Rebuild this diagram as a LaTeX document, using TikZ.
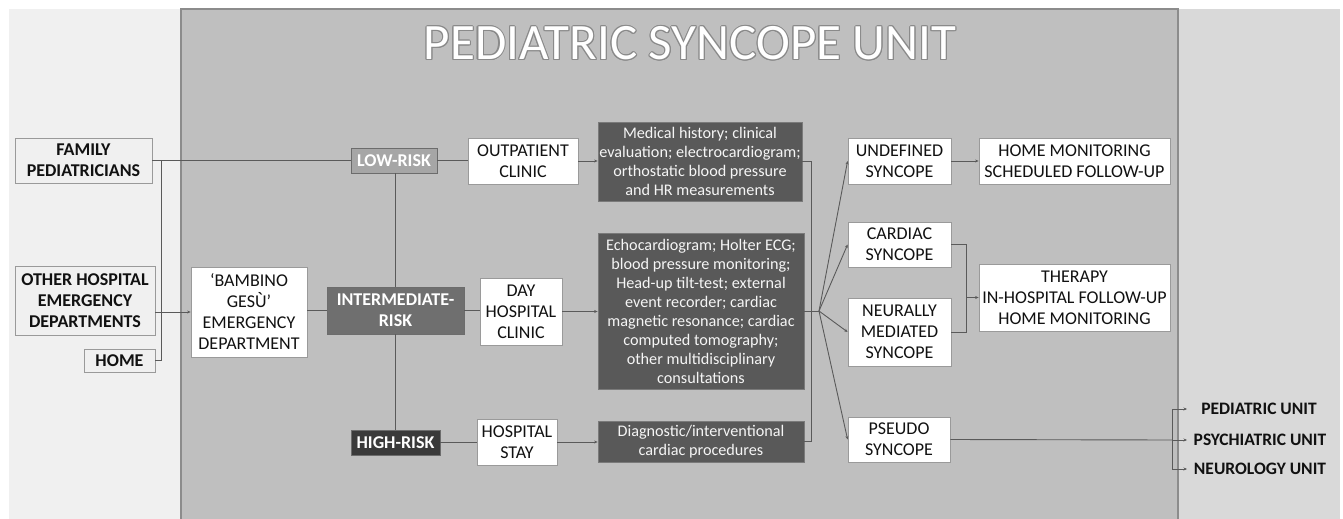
\documentclass[tikz,border=0pt]{standalone}
\usepackage{fontspec}
\setmainfont{Carlito}
\usetikzlibrary{arrows.meta}
\definecolor{leftbg}{HTML}{F0F0F0}
\definecolor{midbg}{HTML}{BFBFBF}
\definecolor{midedge}{HTML}{8C8C8C}
\definecolor{rightbg}{HTML}{D9D9D9}
\definecolor{lowfill}{HTML}{A6A6A6}
\definecolor{interfill}{HTML}{6F6F6F}
\definecolor{highfill}{HTML}{3A3A3A}
\definecolor{darkfill}{HTML}{595959}
\definecolor{boxedge}{HTML}{9A9A9A}
\definecolor{linec}{HTML}{5A5A5A}
\definecolor{titleedge}{HTML}{8A8A8A}
\definecolor{txt}{HTML}{111111}
\tikzset{
  wbox/.style={draw=boxedge, line width=0.8pt, fill=white, text=txt, align=center, inner sep=1pt,
    font=\fontsize{18}{21}\selectfont},
  lbox/.style={wbox, fill=leftbg, font=\bfseries\fontsize{18}{21}\selectfont},
  riskbox/.style={draw=boxedge!70!black, line width=0.8pt, text=white, align=center, inner sep=1pt,
    font=\bfseries\fontsize{18}{21}\selectfont},
  dbox/.style={draw=darkfill!80!white, line width=0.8pt, fill=darkfill, text=white!96!black, align=center, inner sep=1pt,
    font=\fontsize{16.2}{19}\selectfont},
  unit/.style={text=txt, font=\bfseries\fontsize{17.5}{21}\selectfont, inner sep=1pt},
  titlefont/.style={font=\fontsize{51}{56}\selectfont, inner sep=0pt},
  conn/.style={draw=linec, line width=0.9pt},
  arr/.style={conn, -{Stealth[length=3.5pt,width=3pt]}}
}
\begin{document}
\begin{tikzpicture}[x=1pt,y=-1pt]
\useasboundingbox[fill=white] (0,0) rectangle (1343,519);
% panels
\fill[leftbg] (9,9) rectangle (181,519);
\fill[rightbg] (1178,9) rectangle (1340,519);
\fill[midbg] (181,9) rectangle (1178,519);
\draw[midedge, line width=1.2pt] (181,519) -- (181,9) -- (1178,9) -- (1178,519);
% title
\foreach \a in {0,30,...,330}
  \path[shift={(\a:1.1)}] node[titlefont, text=titleedge] at (690,43.5) {PEDIATRIC SYNCOPE UNIT};
\node[titlefont, text=white] (title) at (690,43.5) {PEDIATRIC SYNCOPE UNIT};
% left sources
\node[lbox, minimum width=137pt, minimum height=45pt] (fam) at (83.5,160.5) {FAMILY\\PEDIATRICIANS};
\node[lbox, minimum width=140pt, minimum height=69pt] (oth) at (85,300.5) {OTHER HOSPITAL\\EMERGENCY\\DEPARTMENTS};
\node[lbox, minimum width=71pt, minimum height=23pt] (home) at (119.5,360.5) {HOME};
\node[wbox, minimum width=116pt, minimum height=90pt] (bam) at (249,312) {`BAMBINO\\GESÙ'\\EMERGENCY\\DEPARTMENT};
% risk
\node[riskbox, fill=lowfill, minimum width=86pt, minimum height=25pt] (low) at (394,160.5) {LOW-RISK};
\node[riskbox, fill=interfill, minimum width=137pt, minimum height=47pt] (inter) at (395.5,310.5) {INTERMEDIATE-\\RISK};
\node[riskbox, fill=highfill, minimum width=89pt, minimum height=25pt] (high) at (395.5,442.5) {HIGH-RISK};
% settings
\node[wbox, minimum width=110pt, minimum height=46pt] (outp) at (523,161) {OUTPATIENT\\CLINIC};
\node[wbox, minimum width=82pt, minimum height=67pt] (day) at (521,311.5) {DAY\\HOSPITAL\\CLINIC};
\node[wbox, minimum width=80pt, minimum height=46pt] (hstay) at (517,442) {HOSPITAL\\STAY};
% procedures
\node[dbox, minimum width=204pt, minimum height=79pt] (med) at (700,161.5) {Medical history; clinical\\evaluation; electrocardiogram;\\orthostatic blood pressure\\and HR measurements};
\node[dbox, minimum width=206pt, minimum height=156pt] (echo) at (701,311) {Echocardiogram; Holter ECG;\\blood pressure monitoring;\\Head-up tilt-test; external\\event recorder; cardiac\\magnetic resonance; cardiac\\computed tomography;\\other multidisciplinary\\consultations};
\node[dbox, minimum width=206pt, minimum height=41pt] (diag) at (701,441.5) {Diagnostic/interventional\\cardiac procedures};
% outcomes
\node[wbox, minimum width=103pt, minimum height=46pt] (und) at (899.5,161) {UNDEFINED\\SYNCOPE};
\node[wbox, minimum width=103pt, minimum height=45pt] (card) at (899.5,244.5) {CARDIAC\\SYNCOPE};
\node[wbox, minimum width=103pt, minimum height=68pt] (neur) at (899.5,332) {NEURALLY\\MEDIATED\\SYNCOPE};
\node[wbox, minimum width=102pt, minimum height=45pt] (pseu) at (899,439.5) {PSEUDO\\SYNCOPE};
\node[wbox, minimum width=191pt, minimum height=46pt] (homem) at (1074.5,161) {HOME MONITORING\\SCHEDULED FOLLOW-UP};
\node[wbox, minimum width=191pt, minimum height=67pt] (ther) at (1074.5,297.5) {THERAPY\\IN-HOSPITAL FOLLOW-UP\\HOME MONITORING};
% units
\node[unit] (pedu) at (1259,409) {PEDIATRIC UNIT};
\node[unit] (psyu) at (1260,440) {PSYCHIATRIC UNIT};
\node[unit] (neuu) at (1260,469) {NEUROLOGY UNIT};
% helper coordinates
\coordinate (vx) at (161,312);
\coordinate (col) at (811,312);
\coordinate (hub) at (819,311);
\coordinate (bx) at (966,297.5);
\coordinate (ux) at (1172,440);
\coordinate (ta) at (1187,409);
\coordinate (tb) at (1187,440);
\coordinate (tc) at (1187,469);
% connectors: sources
\draw[conn] (fam.east) -- (low.west);
\draw[conn] (fam.east -| vx) -- (home.east -| vx) -- (home.east);
\draw[conn] (oth.east |- vx) -- (vx);
\draw[arr] (vx) -- (bam.west);
\draw[conn] (bam.east |- inter.west) -- (inter.west);
% risk tree
\draw[conn] (low.south -| inter.north) -- (inter.north);
\draw[conn] (inter.south) -- (inter.south |- high.north);
\draw[conn] (low.east) -- (low.east -| outp.west);
\draw[conn] (inter.east) -- (inter.east -| day.west);
\draw[conn] (high.east) -- (high.east -| hstay.west);
\draw[arr] (outp.east) -- (outp.east -| med.west);
\draw[arr] (day.east) -- (day.east -| echo.west);
\draw[arr] (hstay.east) -- (hstay.east -| diag.west);
% collector
\draw[conn] (med.east) -| (col |- diag.east) -- (diag.east);
\draw[conn] (echo.east) -- (hub);
\draw[arr] (hub) -- (und.west);
\draw[arr] (hub) -- (card.west);
\draw[arr] (hub) -- (neur.west);
\draw[arr] (hub) -- (pseu.west);
% outcomes
\draw[arr] (und.east) -- (und.east -| homem.west);
\draw[conn] (card.east) -| (bx |- neur.east) -- (neur.east);
\draw[arr] (bx) -- (ther.west);
\draw[conn] (pseu.east) -- (ux);
\draw[conn] (ta -| ux) -- (tc -| ux);
\draw[arr] (ta -| ux) -- (ta);
\draw[arr] (ux) -- (tb);
\draw[arr] (tc -| ux) -- (tc);
\end{tikzpicture}
\end{document}
